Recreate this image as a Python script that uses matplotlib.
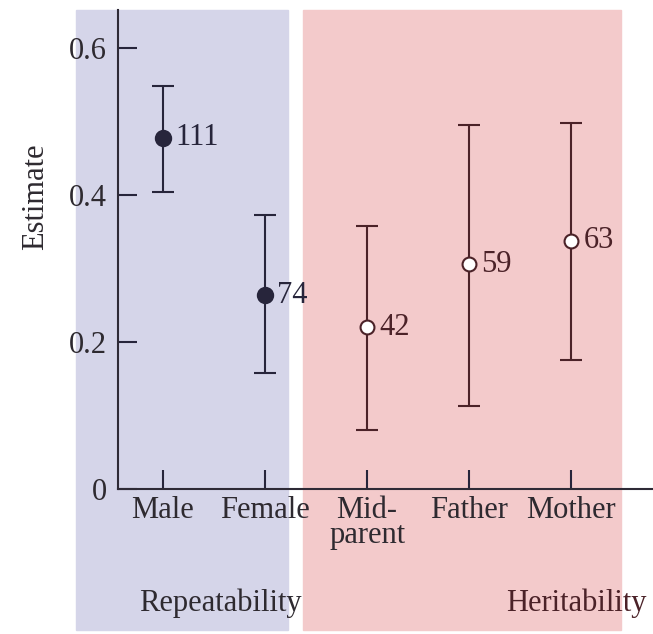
import matplotlib.pyplot as plt
from matplotlib.patches import Rectangle

plt.rcParams['font.family'] = ['Liberation Serif', 'DejaVu Serif']

# --- data ---
categories = ["Male", "Female", "Mid-\nparent", "Father", "Mother"]
estimates = [0.478, 0.264, 0.220, 0.306, 0.338]
upper = [0.549, 0.373, 0.358, 0.495, 0.498]
lower = [0.404, 0.158, 0.080, 0.113, 0.175]
sample_sizes = ["111", "74", "42", "59", "63"]
filled = [True, True, False, False, False]
groups = ["Repeatability", "Heritability"]

W, H = 653, 634
fig = plt.figure(figsize=(W / 100, H / 100), dpi=100)

def fx(px):
    return px / W

def fy(py):
    return 1 - py / H

# background bands (figure pixel coords)
fig.patches.append(Rectangle((fx(76), fy(630)), fx(288) - fx(76), fy(10) - fy(630),
                             transform=fig.transFigure, color="#d5d5e9", zorder=-10))
fig.patches.append(Rectangle((fx(303), fy(630)), fx(621) - fx(303), fy(10) - fy(630),
                             transform=fig.transFigure, color="#f3cacb", zorder=-10))

ax = fig.add_axes([fx(118), fy(489), fx(653) - fx(118), fy(10) - fy(489)])
ax.patch.set_alpha(0)

x = list(range(len(categories)))
navy = "#27253b"
maroon = "#4b2228"
fs = 22

for i in x:
    c = navy if filled[i] else maroon
    ax.errorbar(i, estimates[i],
                yerr=[[estimates[i] - lower[i]], [upper[i] - estimates[i]]],
                fmt="none", ecolor=c, elinewidth=1.5, capsize=8, capthick=1.5)
    ax.plot(i, estimates[i], "o", ms=11 if filled[i] else 10,
            mfc=c if filled[i] else "white", mec=c, mew=1.5, zorder=5)
    ax.text(i + 0.12, estimates[i], sample_sizes[i], va="center", ha="left",
            fontsize=fs, color=c)

ax.set_xlim(-0.44, 4.8)
ax.set_ylim(0, 0.652)
ax.set_xticks(x)
ax.set_xticklabels(categories, fontsize=fs, linespacing=0.8)
ax.set_yticks([0, 0.2, 0.4, 0.6])
ax.set_yticklabels(["0", "0.2", "0.4", "0.6"], fontsize=fs)
ax.tick_params(direction="in", length=14, width=1.5, color=navy, pad=5,
               labelcolor="#2e2a30")
ax.tick_params(axis="y", pad=8)
for side in ["top", "right"]:
    ax.spines[side].set_visible(False)
for side in ["left", "bottom"]:
    ax.spines[side].set_linewidth(1.5)
    ax.spines[side].set_color("#2e2a36")

ax.set_ylabel("Estimate", fontsize=fs, color="#2e2a30")
ax.yaxis.set_label_coords(-0.127, 0.61)

fig.text(fx(220), fy(603), groups[0], ha="center", va="center", fontsize=fs, color="#2e2a30")
fig.text(fx(576), fy(603), groups[1], ha="center", va="center", fontsize=fs, color="#4b2228")

fig.savefig("out.png", dpi=100)
